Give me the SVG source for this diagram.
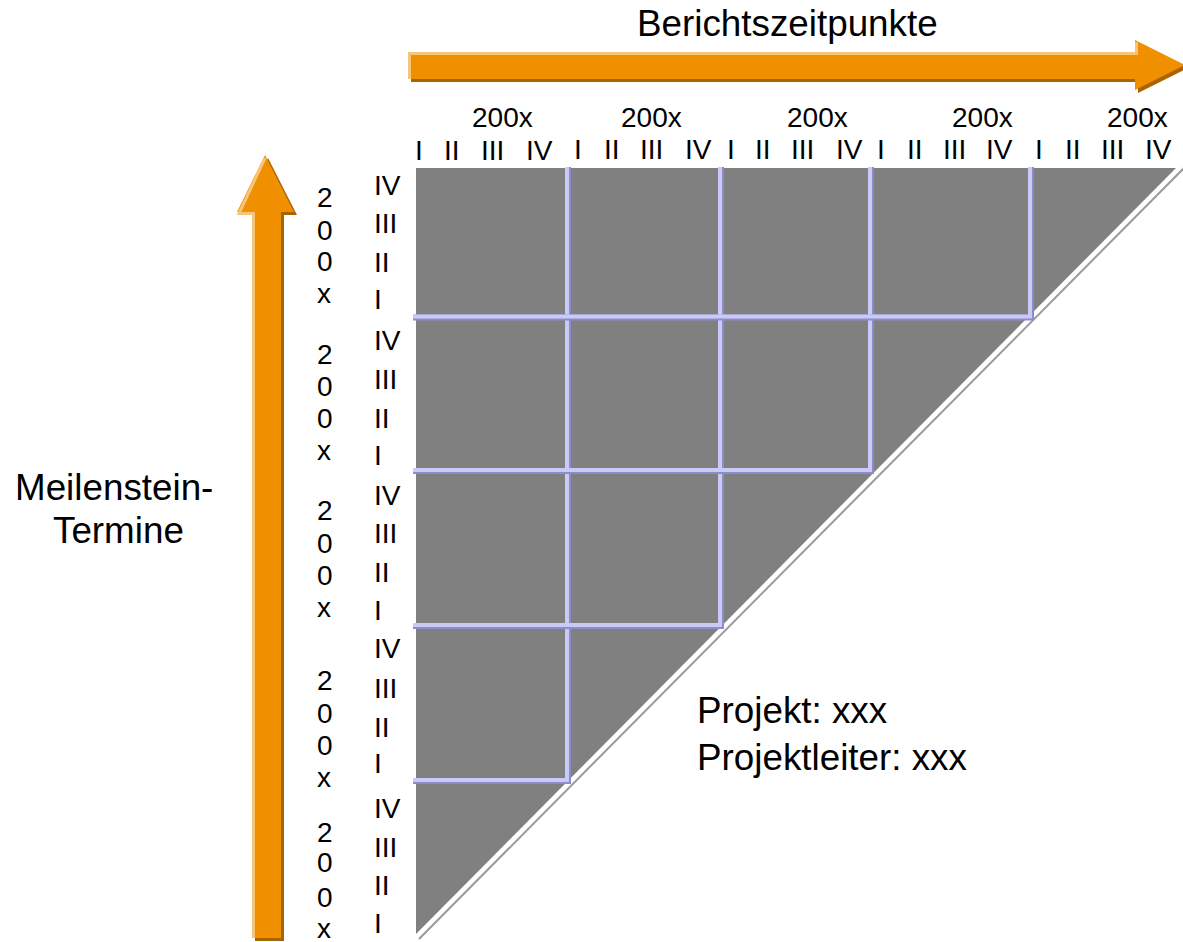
<svg xmlns="http://www.w3.org/2000/svg" width="1183" height="942" viewBox="0 0 1183 942">
<style>
text{font-family:"Liberation Sans",Arial,sans-serif;fill:#000}
.big{font-size:36.8px}
.sm{font-size:28px}
.ash{fill:#A86400}
.amain{fill:#F09000}
.ahl{fill:none;stroke:#F8C47C;stroke-width:3}
.gsh{fill:none;stroke:#8C8CCC;stroke-width:6}
.gmain{fill:none;stroke:#CACAF6;stroke-width:4}
</style>
<rect width="1183" height="942" fill="#fff"/>

<g id="arrow-top">
<polygon class="ash" points="411,55 1138,55 1138,43 1188,68 1138,93 1138,82 411,82"/>
<polygon class="amain" points="408,52 1135,52 1135,40 1185,65 1135,90 1135,79 408,79"/>
<polyline class="ahl" points="409.5,79 409.5,53.5 1136.5,53.5 1136.5,42"/>
</g>

<g id="arrow-left">
<polygon class="ash" points="268,158 297,215 284,215 284,941 255,941 255,215 240,215"/>
<polygon class="amain" points="265,155 294,212 281,212 281,938 252,938 252,212 237,212"/>
<polyline class="ahl" points="253.5,938 253.5,213.5 239,213.5 265,158"/>
</g>

<g id="matrix">
<polygon fill="#808080" points="416,168 1176,168 416,934"/>
<line x1="419" y1="939" x2="1185" y2="167" stroke="#9A9A9A" stroke-width="2"/>
</g>

<g id="connectors">
<polyline class="gsh" points="568,167 568,781 413,781"/>
<polyline class="gmain" points="567,167 567,780 413,780"/>
<polyline class="gsh" points="721,167 721,626 413,626"/>
<polyline class="gmain" points="720,167 720,625 413,625"/>
<polyline class="gsh" points="871,167 871,471 413,471"/>
<polyline class="gmain" points="870,167 870,470 413,470"/>
<polyline class="gsh" points="1031,167 1031,317.5 413,317.5"/>
<polyline class="gmain" points="1030,167 1030,316.5 413,316.5"/>
</g>

<g id="title-top"><text class="big" x="637" y="36">Berichtszeitpunkte</text></g>
<g id="title-left">
<text class="big" x="15" y="500">Meilenstein-</text>
<text class="big" x="53" y="543">Termine</text>
</g>
<g id="project">
<text class="big" x="697" y="723">Projekt: xxx</text>
<text class="big" x="697" y="770">Projektleiter: xxx</text>
</g>

<g id="years-top">
<text class="sm" x="472" y="127">200x</text>
<text class="sm" x="621" y="127">200x</text>
<text class="sm" x="787" y="127">200x</text>
<text class="sm" x="952" y="127">200x</text>
<text class="sm" x="1107" y="127">200x</text>
</g>
<g id="quarters-top">
<text class="sm" x="415" y="160">I</text><text class="sm" x="444" y="160">II</text><text class="sm" x="481" y="160">III</text><text class="sm" x="526" y="160">IV</text>
<text class="sm" x="574" y="159">I</text><text class="sm" x="604" y="159">II</text><text class="sm" x="640" y="159">III</text><text class="sm" x="685" y="159">IV</text>
<text class="sm" x="727" y="159">I</text><text class="sm" x="755" y="159">II</text><text class="sm" x="791" y="159">III</text><text class="sm" x="836" y="159">IV</text>
<text class="sm" x="877" y="159">I</text><text class="sm" x="907" y="159">II</text><text class="sm" x="943" y="159">III</text><text class="sm" x="986" y="159">IV</text>
<text class="sm" x="1035" y="159">I</text><text class="sm" x="1065" y="159">II</text><text class="sm" x="1101" y="159">III</text><text class="sm" x="1145" y="159">IV</text>
</g>
<g id="quarters-left">
<text class="sm" x="374" y="195">IV</text><text class="sm" x="374" y="233">III</text><text class="sm" x="374" y="272">II</text><text class="sm" x="374" y="309">I</text>
<text class="sm" x="374" y="350">IV</text><text class="sm" x="374" y="389">III</text><text class="sm" x="374" y="428">II</text><text class="sm" x="374" y="465">I</text>
<text class="sm" x="374" y="505">IV</text><text class="sm" x="374" y="543">III</text><text class="sm" x="374" y="582">II</text><text class="sm" x="374" y="620">I</text>
<text class="sm" x="374" y="658">IV</text><text class="sm" x="374" y="698">III</text><text class="sm" x="374" y="737">II</text><text class="sm" x="374" y="773">I</text>
<text class="sm" x="374" y="818">IV</text><text class="sm" x="374" y="857">III</text><text class="sm" x="374" y="895">II</text><text class="sm" x="374" y="933">I</text>
</g>
<g id="years-left">
<text class="sm" x="317" y="207">2</text><text class="sm" x="317" y="240">0</text><text class="sm" x="317" y="271">0</text><text class="sm" x="317" y="303">x</text>
<text class="sm" x="317" y="364">2</text><text class="sm" x="317" y="396">0</text><text class="sm" x="317" y="428">0</text><text class="sm" x="317" y="460">x</text>
<text class="sm" x="317" y="520">2</text><text class="sm" x="317" y="553">0</text><text class="sm" x="317" y="585">0</text><text class="sm" x="317" y="617">x</text>
<text class="sm" x="317" y="690">2</text><text class="sm" x="317" y="723">0</text><text class="sm" x="317" y="755">0</text><text class="sm" x="317" y="787">x</text>
<text class="sm" x="317" y="842">2</text><text class="sm" x="317" y="872">0</text><text class="sm" x="317" y="907">0</text><text class="sm" x="317" y="938">x</text>
</g>
</svg>
